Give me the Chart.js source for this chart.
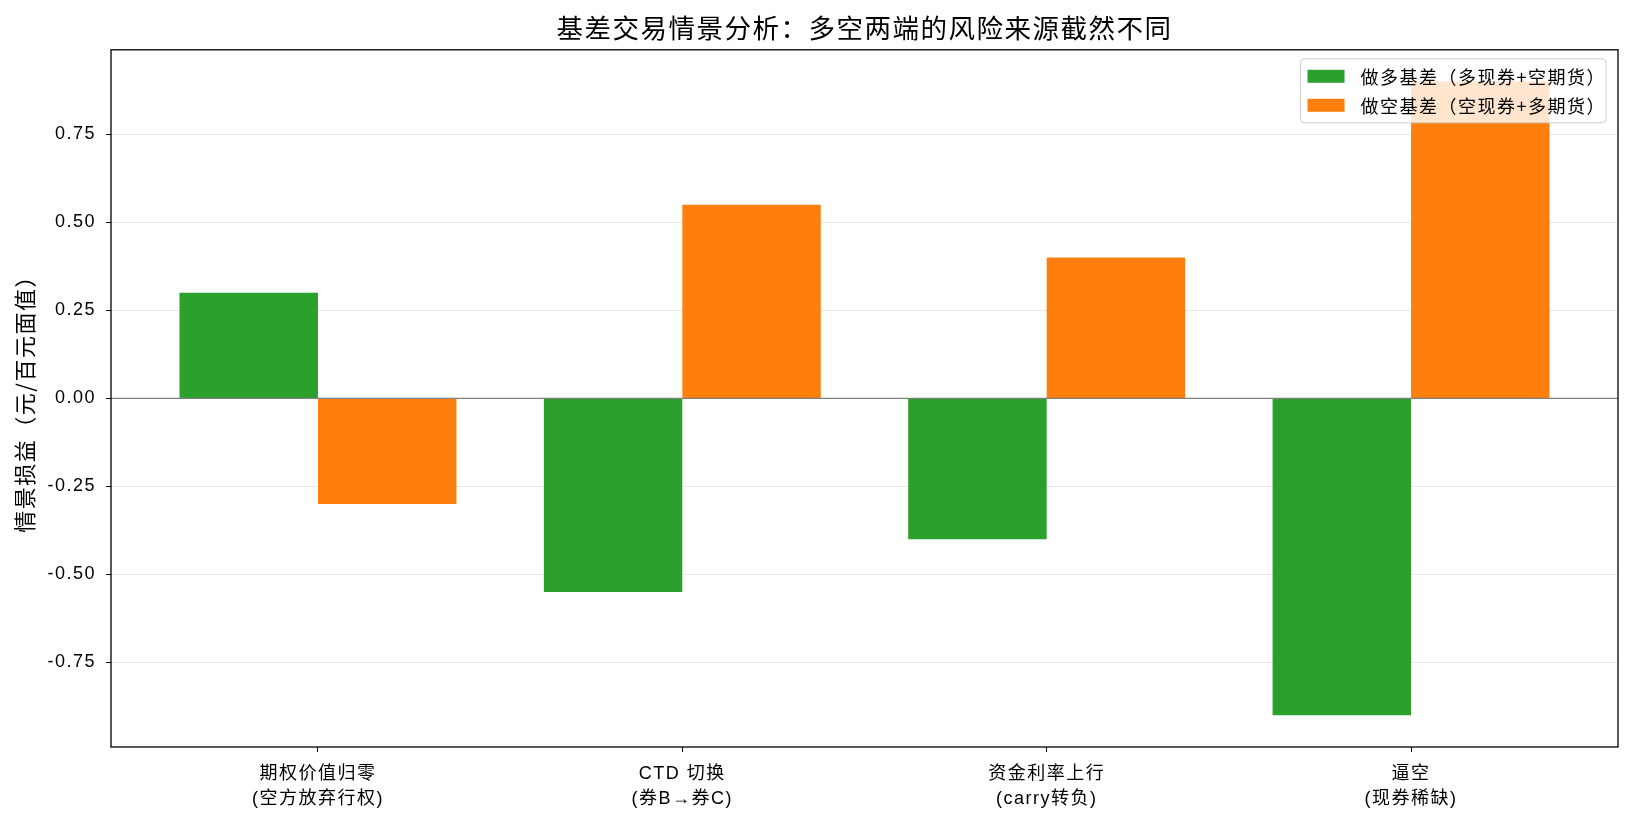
<!DOCTYPE html>
<html>
<head>
<meta charset="utf-8">
<script src="https://cdn.jsdelivr.net/npm/chart.js@4.4.1/dist/chart.umd.min.js"></script>
<style>
  html, body { margin: 0; padding: 0; background: #fff; }
  canvas { display: block; }
</style>
</head>
<body>
<canvas id="chart" width="1635" height="825"></canvas>
<script>
const categories = [
  ['期权价值归零', '(空方放弃行权)'],
  ['CTD 切换', '(券B→券C)'],
  ['资金利率上行', '(carry转负)'],
  ['逼空', '(现券稀缺)']
]
const longBasis = [0.30, -0.55, -0.40, -0.90]
const shortBasis = [-0.30, 0.55, 0.40, 0.90]
const yTicks = [-0.75, -0.50, -0.25, 0.00, 0.25, 0.50, 0.75]

const seriesNames = ['做多基差（多现券+空期货）', '做空基差（空现券+多期货）']
const titleText = '基差交易情景分析：多空两端的风险来源截然不同'
const yTitle = '情景损益（元/百元面值）'

const LATIN = "'Liberation Sans', 'Noto Sans CJK SC', sans-serif"
const CJK = "'Noto Sans CJK SC', 'Liberation Sans', sans-serif"

// the reference text is set a little looser than the canvas default
const spacingPlugin = {
  id: 'spacing',
  beforeUpdate(chart) { chart.ctx.letterSpacing = '1.5px' },
  beforeDraw(chart) { chart.ctx.letterSpacing = '1.5px' }
}

// zero line + axes frame, drawn over the bars like matplotlib spines
const framePlugin = {
  id: 'frame',
  afterDatasetsDraw(chart) {
    const { ctx, chartArea: a, scales } = chart
    const y0 = scales.y.getPixelForValue(0)
    ctx.save()
    ctx.strokeStyle = '#808080'
    ctx.lineWidth = 1.3
    ctx.beginPath()
    ctx.moveTo(a.left, y0)
    ctx.lineTo(a.right, y0)
    ctx.stroke()
    ctx.strokeStyle = '#000'
    ctx.lineWidth = 1.3
    ctx.strokeRect(a.left, a.top, a.right - a.left, a.bottom - a.top)
    ctx.restore()
  }
}

// matplotlib-like legend box in the upper right corner of the axes
const legendPlugin = {
  id: 'boxLegend',
  afterDraw(chart) {
    const { ctx, chartArea: a } = chart
    const sets = chart.data.datasets
    ctx.save()
    ctx.font = '18px ' + CJK
    const textW = Math.max(...sets.map(d => ctx.measureText(d.label).width))
    const w = 60 + textW
    const h = 64
    const right = a.right - 12
    const top = a.top + 9
    const left = right - w
    ctx.fillStyle = 'rgba(255,255,255,0.8)'
    ctx.strokeStyle = '#cccccc'
    ctx.lineWidth = 1
    ctx.beginPath()
    ctx.roundRect(left, top, w, h, 4)
    ctx.fill()
    ctx.stroke()
    ctx.textBaseline = 'middle'
    sets.forEach((d, i) => {
      const cy = top + 17.5 + i * 29
      ctx.fillStyle = d.backgroundColor
      ctx.fillRect(left + 7, cy - 6.5, 37, 13)
      ctx.fillStyle = '#000'
      ctx.fillText(d.label, left + 60, cy + 1)
    })
    ctx.restore()
  }
}

new Chart(document.getElementById('chart'), {
  type: 'bar',
  data: {
    datasets: [
      {
        label: seriesNames[0],
        data: longBasis.map((v, i) => ({ x: i, y: v })),
        backgroundColor: '#2ca02c',
        borderWidth: 0
      },
      {
        label: seriesNames[1],
        data: shortBasis.map((v, i) => ({ x: i, y: v })),
        backgroundColor: '#ff7f0e',
        borderWidth: 0
      }
    ]
  },
  options: {
    responsive: false,
    animation: false,
    events: [],
    categoryPercentage: 0.76,
    barPercentage: 1.0,
    layout: { padding: { left: 0, right: 17, top: 0, bottom: 0 } },
    plugins: {
      legend: { display: false },
      tooltip: { enabled: false },
      title: {
        display: true,
        text: titleText,
        fullSize: false,
        color: '#000',
        font: { family: CJK, size: 26.5, weight: 'normal' },
        padding: { top: 12, bottom: 6 }
      }
    },
    scales: {
      x: {
        type: 'linear',
        offset: false,
        min: -0.568,
        max: 3.568,
        afterBuildTicks: scale => { scale.ticks = categories.map((c, i) => ({ value: i })) },
        afterFit: scale => { scale.height = 78 },
        border: { display: false },
        grid: {
          offset: false,
          drawOnChartArea: false,
          color: '#000',
          tickColor: '#000',
          tickLength: 5,
          lineWidth: 1
        },
        ticks: {
          autoSkip: false,
          maxRotation: 0,
          padding: 10,
          color: '#000',
          font: { family: LATIN, size: 18, lineHeight: 1.39 },
          callback: value => categories[value]
        }
      },
      y: {
        min: -0.99,
        max: 0.99,
        afterBuildTicks: scale => { scale.ticks = yTicks.map(v => ({ value: v })) },
        afterFit: scale => { scale.width = 111 },
        border: { display: false },
        grid: {
          color: '#e8e8e8',
          tickColor: '#000',
          tickLength: 5,
          lineWidth: 1
        },
        ticks: {
          padding: 10,
          color: '#000',
          font: { family: LATIN, size: 18 },
          callback: value => value.toFixed(2)
        },
        title: {
          display: true,
          text: yTitle,
          color: '#000',
          font: { family: CJK, size: 22 },
          padding: { top: 11, bottom: 0 }
        }
      }
    }
  },
  plugins: [spacingPlugin, framePlugin, legendPlugin]
})
</script>
</body>
</html>
